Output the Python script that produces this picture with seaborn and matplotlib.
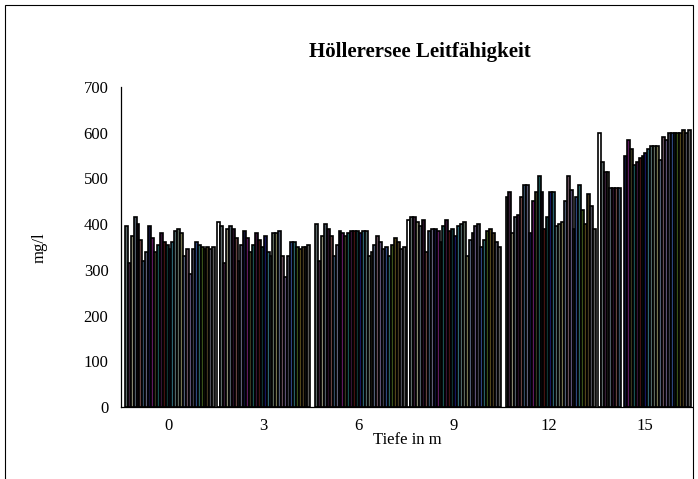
import numpy as np
import pandas as pd
import matplotlib
matplotlib.use("Agg")
import matplotlib.pyplot as plt
from matplotlib.patches import Rectangle
import seaborn as sns

# --- Data: conductivity (mg/l) per depth, one value per measurement series ---
depths = ["0", "3", "6", "9", "12", "15"]
nan = np.nan

values_0m = [nan, 395, 315, 375, 415, 400, 365, 320, 340, 395, 370, 340, 355, 380, 360, 355,
             345, 360, 385, 390, 380, 330, 345, 290, 345, 360, 355, 350, 345, 350, 345, 350]
values_3m = [405, 395, 315, 390, 395, 390, 370, 320, 355, 385, 370, 340, 355, 380, 365, 350,
             375, 340, 330, 380, 380, 385, 330, 285, 330, 360, 360, 350, 345, 350, 350, 355]
values_6m = [nan, 400, 320, 375, 400, 390, 375, 330, 355, 385, 380, 375, 380, 385, 385, 385,
             380, 385, 385, 330, 340, 355, 375, 360, 345, 350, 330, 355, 370, 360, 345, 350]
values_9m = [410, 415, 415, 405, 395, 410, 340, 385, 390, 390, 385, 360, 395, 410, 385, 390,
             375, 395, 400, 405, 330, 365, 380, 395, 400, 350, 365, 385, 390, 380, 360, 350]
values_12m = [nan, 460, 470, 380, 415, 420, 460, 485, 485, 380, 450, 470, 505, 470, 390, 415,
              470, 470, 395, 400, 405, 450, 505, 475, 390, 460, 485, 430, 400, 465, 440, 390]
values_15m = [600, 535, 515, 515, 480, 480, 480, 480, nan, 550, 585, 565, 530, 535, 545, 550,
              555, 565, 570, 570, 570, 540, 590, 585, 600, 600, 600, 600, 600, 605, 600, 605]

# series colours (dark, muted tones - they only show as thin stripes)
series_colors = ["#ffffff", "#5a6a6a", "#3a1a3a", "#8a8a6a", "#4a5a6a", "#2a0a2a", "#6a3a3a",
                 "#2a4a6a", "#5a5a7a", "#0a0a3a", "#6a106a", "#3a3a1a", "#105a5a", "#3a103a",
                 "#4a0a0a", "#0a3a3a", "#0a0a6a", "#206a7a", "#4a6a6a", "#5a6a5a", "#7a7a4a",
                 "#4a5a7a", "#6a4a5a", "#5a4a7a", "#3a3a4a", "#20408a", "#206a6a", "#3a5a10",
                 "#5a4a10", "#4a3a1a", "#4a4a5a", "#5a5a5a"]


def build_frame():
    all_values = [values_0m, values_3m, values_6m, values_9m, values_12m, values_15m]
    rows = []
    for depth, vals in zip(depths, all_values):
        for i, v in enumerate(vals):
            rows.append({"depth": depth, "series": f"S{i}", "value": v})
    return pd.DataFrame(rows)


def main():
    df = build_frame()
    series_order = [f"S{i}" for i in range(len(series_colors))]

    sns.set_style("white")
    plt.rcParams["font.family"] = ["Liberation Serif", "DejaVu Serif"]
    for key in ["text.color", "axes.labelcolor", "xtick.color", "ytick.color"]:
        plt.rcParams[key] = "black"

    fig = plt.figure(figsize=(6.98, 4.79), dpi=100)
    ax = fig.add_axes([121 / 698, 72 / 479, 571 / 698, 320 / 479])

    sns.barplot(
        data=df, x="depth", y="value", hue="series",
        order=depths, hue_order=series_order,
        palette=series_colors, width=0.98, dodge=True,
        edgecolor="black", linewidth=1.2, legend=False, ax=ax,
        errorbar=None,
    )

    ax.set_xlim(-0.5, 5.5)
    ax.set_ylim(0, 700)
    ax.set_yticks(range(0, 701, 100))
    ax.set_xticks(range(len(depths)))
    ax.set_xticklabels(depths)
    ax.set_xticks(np.arange(0.5, len(depths), 1.0), minor=True)
    ax.tick_params(axis="x", which="major", length=0, labelsize=12, pad=8)
    ax.tick_params(axis="x", which="minor", length=5, width=0.8, color="black", direction="out")
    ax.tick_params(axis="y", length=5, width=0.8, color="black", direction="out", labelsize=12, pad=4)
    ax.set_xlabel("")
    ax.set_ylabel("")

    for side in ["top", "right"]:
        ax.spines[side].set_visible(False)
    for side in ["left", "bottom"]:
        ax.spines[side].set_color("black")
        ax.spines[side].set_linewidth(0.9)

    # titles / axis labels placed like the spreadsheet chart
    fig.text(420 / 698, 1 - 52 / 479, "Höllerersee Leitfähigkeit",
             ha="center", va="center", fontsize=15, fontweight="bold", color="black")
    fig.text(40 / 698, 1 - 248 / 479, "mg/l", ha="center", va="center",
             rotation=90, fontsize=12, color="black")
    fig.text(407 / 698, 1 - 440 / 479, "Tiefe in m", ha="center", va="center",
             fontsize=12, color="black")

    # chart area border
    fig.patches.append(Rectangle((5 / 698, -0.05), 688 / 698, 1.05 - 5 / 479,
                                 transform=fig.transFigure, fill=False,
                                 edgecolor="black", linewidth=0.8))

    fig.savefig("out.png", dpi=100, facecolor="white")
    plt.close(fig)


if __name__ == "__main__":
    main()
